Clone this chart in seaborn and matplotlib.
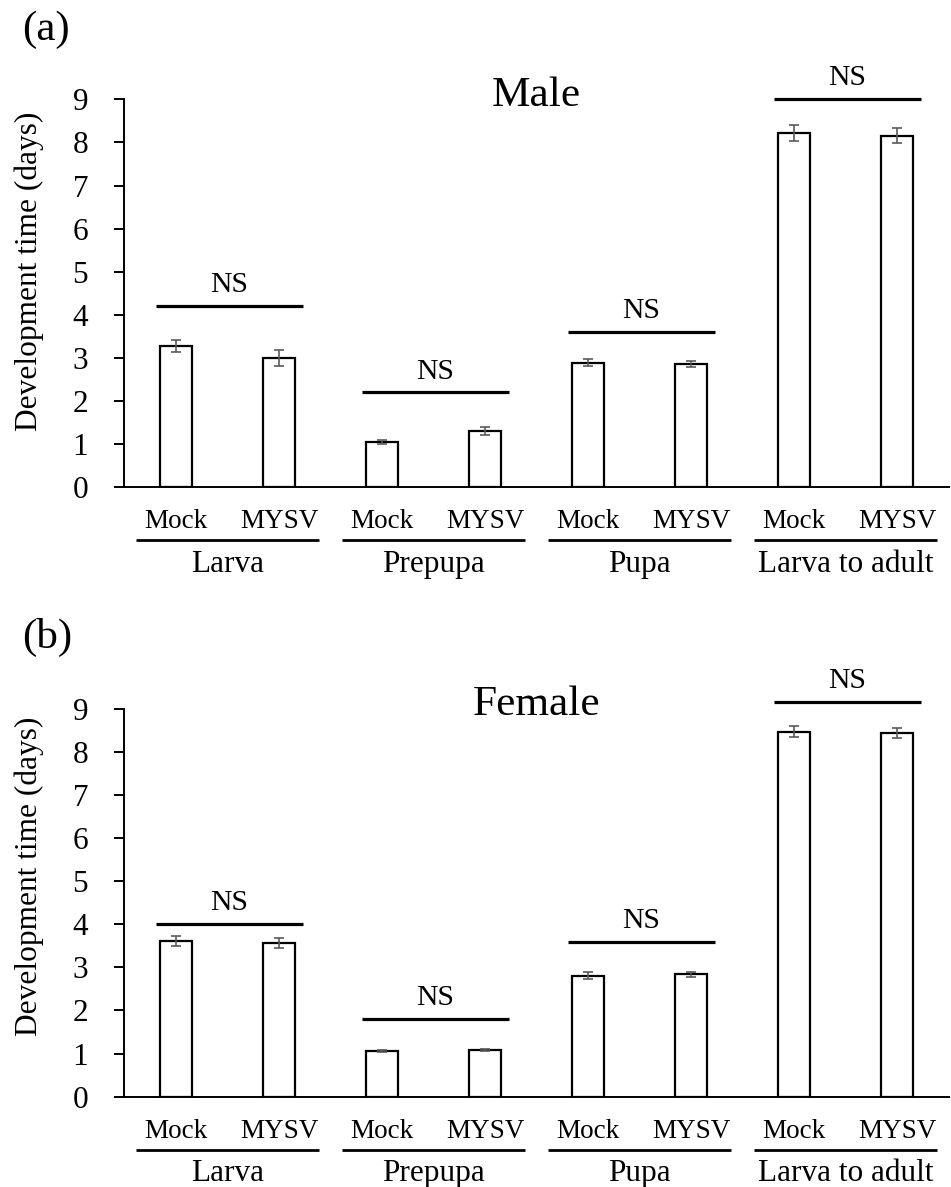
import numpy as np
import pandas as pd
import matplotlib
matplotlib.use("Agg")
import matplotlib.pyplot as plt
import matplotlib.transforms as mtransforms
import seaborn as sns

# ---- data -------------------------------------------------------------
stages = ["Larva", "Prepupa", "Pupa", "Larva to adult"]
treatments = ["Mock", "MYSV"]

male_days = [3.28, 3.00, 1.05, 1.31, 2.89, 2.86, 8.22, 8.16]
male_err = [0.13, 0.18, 0.05, 0.09, 0.08, 0.08, 0.18, 0.17]
male_ns_y = [4.2, 2.2, 3.6, 9.0]

female_days = [3.61, 3.56, 1.06, 1.08, 2.81, 2.84, 8.47, 8.44]
female_err = [0.12, 0.12, 0.03, 0.03, 0.08, 0.06, 0.13, 0.12]
female_ns_y = [4.0, 1.8, 3.6, 9.15]

sex_titles = ["Male", "Female"]
panel_tags = ["(a)", "(b)"]
ns_text = "NS"
ylabel = "Development time (days)"
yticks = list(range(0, 10))

# ---- style ------------------------------------------------------------
sns.set_theme(style="white")
plt.rcParams["font.family"] = ["Liberation Serif", "DejaVu Serif"]
plt.rcParams["axes.linewidth"] = 1.4
plt.rcParams["text.color"] = "black"
plt.rcParams["axes.labelcolor"] = "black"

W, H = 951, 1187
DPI = 100
fig = plt.figure(figsize=(W / DPI, H / DPI), dpi=DPI)

ax_left = 124.5 / W
ax_width = 824 / W
ax_height = 388 / H
axes = [
    fig.add_axes([ax_left, 1 - 487.3 / H, ax_width, ax_height]),
    fig.add_axes([ax_left, 1 - 1096.7 / H, ax_width, ax_height]),
]

bar_ids = [f"{s} {t}" for s in stages for t in treatments]
tick_labels = [t for s in stages for t in treatments]


def draw_panel(ax, days, err, ns_y, title, ylab_y):
    df = pd.DataFrame({"bar": bar_ids, "days": days})
    sns.barplot(data=df, x="bar", y="days", order=bar_ids, ax=ax,
                color="white", edgecolor="black", linewidth=1.6,
                width=0.31, errorbar=None, saturation=1)
    pos = np.arange(len(bar_ids))
    ax.errorbar(pos, days, yerr=err, fmt="none", ecolor="#5a5a5a",
                elinewidth=1.2, capsize=3.8, capthick=1.2, zorder=4)

    ax.set_xlim(-0.5, 7.5)
    ax.set_ylim(0, 9)
    ax.set_yticks(yticks)
    ax.tick_params(axis="y", direction="out", length=7.2, width=1.4,
                   pad=19, labelsize=22.5, colors="black", left=True)
    ax.set_xticks(pos, tick_labels, va="baseline")
    ax.tick_params(axis="x", length=0, pad=29.5, labelsize=19.5,
                   colors="black")

    for side in ("top", "right"):
        ax.spines[side].set_visible(False)
    for side in ("left", "bottom"):
        ax.spines[side].set_color("black")
        ax.spines[side].set_linewidth(1.4)

    ax.set_xlabel("")
    ax.set_ylabel(ylabel, fontsize=22.6, color="black")
    ax.yaxis.set_label_coords(-0.116, ylab_y)
    ax.yaxis.label.set_verticalalignment("center")

    # significance bars
    for k, y in enumerate(ns_y):
        i = 2 * k
        ax.plot([i - 0.19, i + 1.23], [y, y], color="black", lw=2.3,
                solid_capstyle="butt", clip_on=False)
        ax.annotate(ns_text, xy=(i + 0.52, y), xytext=(0, 10),
                    textcoords="offset points", ha="center",
                    va="baseline", fontsize=21.4, annotation_clip=False)

    # stage grouping under the tick labels
    trans = mtransforms.blended_transform_factory(ax.transData, ax.transAxes)
    for k, stage in enumerate(stages):
        c = 2 * k + 0.5
        ax.plot([c - 0.885, c + 0.885], [-0.1366, -0.1366], color="black",
                lw=2.0, transform=trans, clip_on=False,
                solid_capstyle="butt")
        ax.text(c, -0.2175, stage, transform=trans, ha="center",
                va="baseline", fontsize=22.5)

    ax.text(0.5, 0.983, title, transform=ax.transAxes, ha="center",
            va="baseline", fontsize=31.2)


draw_panel(axes[0], male_days, male_err, male_ns_y, sex_titles[0], 0.556)
draw_panel(axes[1], female_days, female_err, female_ns_y, sex_titles[1], 0.569)

fig.text(21.7 / W, 1 - 40 / H, panel_tags[0], ha="left", va="baseline",
         fontsize=31)
fig.text(21.7 / W, 1 - 648.3 / H, panel_tags[1], ha="left", va="baseline",
         fontsize=31)

fig.savefig("out.png", dpi=DPI, facecolor="white")
